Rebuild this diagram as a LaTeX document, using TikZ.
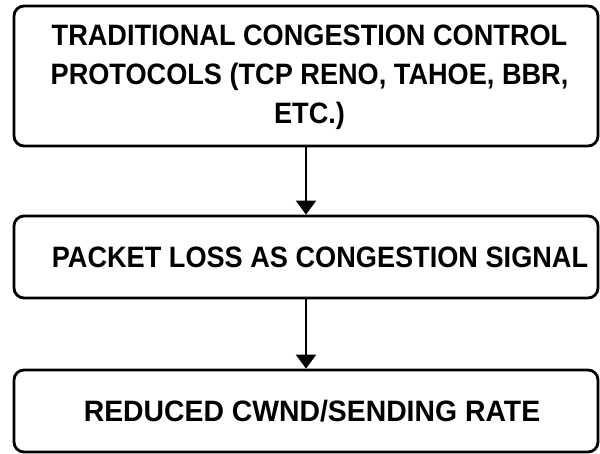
\documentclass[tikz,border=0pt]{standalone}
\usepackage{graphicx}
\usepackage{fontspec}
\setmainfont{Liberation Sans}[FakeStretch=0.92]
\usetikzlibrary{arrows.meta}
\begin{document}
\begin{tikzpicture}[x=1pt,y=-1pt,
  box/.style={draw=black,line width=2.8pt,rounded corners=10pt,minimum width=584pt,inner sep=0pt,fill=white},
  lbl/.style={font=\fontsize{29.5}{39}\selectfont\bfseries,align=center,inner sep=0pt,text=black},
  flow/.style={line width=2.5pt,-{Triangle[width=20pt,length=14pt]}}]
\useasboundingbox[fill=white] (0,0) rectangle (600,454);
% process boxes
\node[box,minimum height=140pt] (b1) at (306,76) {};
\node[box,minimum height=82pt] (b2) at (306,257) {};
\node[box,minimum height=82pt] (b3) at (306,411) {};
% box labels
\node[lbl] (t1) at (309.5,77) {TRADITIONAL CONGESTION CONTROL\\PROTOCOLS (TCP RENO, TAHOE, BBR,\\ETC.)};
\node[lbl] (t2) at (320,257.5) {PACKET LOSS AS CONGESTION SIGNAL};
\node[lbl] (t3) at (312,411.5) {\scalebox{1.045}[1]{REDUCED CWND/SENDING RATE}};
% flow arrows
\draw[flow] (b1) -- (b2);
\draw[flow] (b2) -- (b3);
\end{tikzpicture}
\end{document}
